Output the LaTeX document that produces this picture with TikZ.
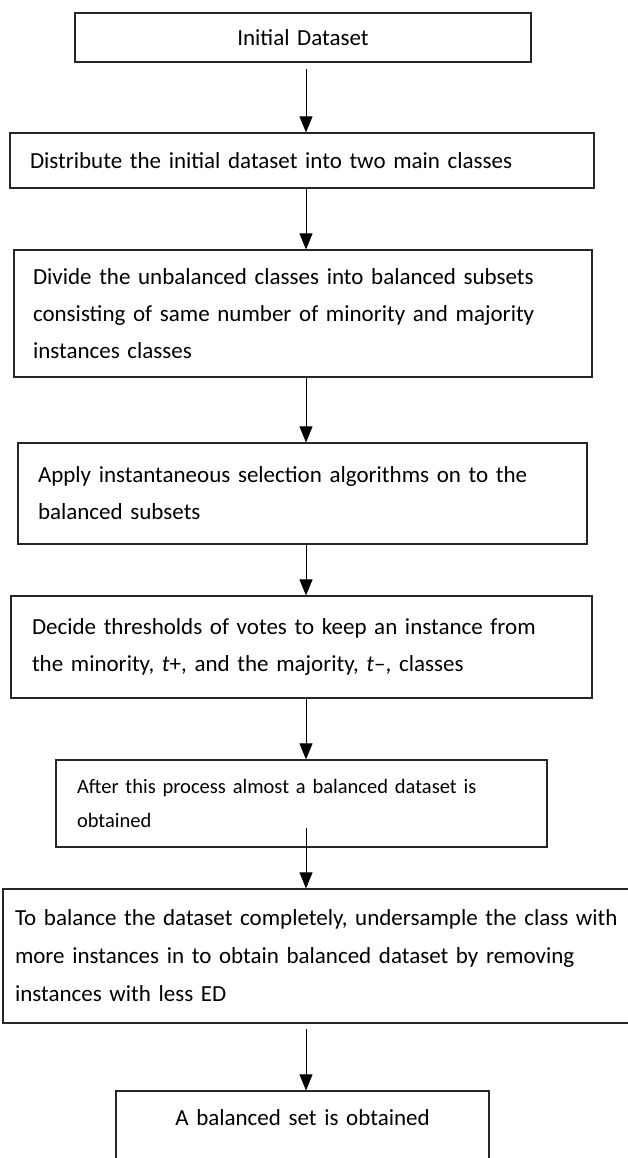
\documentclass[tikz,border=0pt]{standalone}
\usepackage{fontspec}
\setmainfont{Carlito}
\usetikzlibrary{arrows.meta}
\tikzset{
	procbox/.style={draw=black!85, line width=1.2pt, rectangle, inner ysep=0pt, align=left, font=\fontsize{23}{37}\selectfont},
	flow/.style={line width=0.9pt, -{Triangle[width=13pt,length=16pt]}}
}

\begin{document}
\begin{tikzpicture}[x=1pt, y=-1pt]
			%%%%% START %%%%%
			
			\useasboundingbox (0, 0) rectangle (628, 1158);
			\coordinate (axis) at (306, 0);
			
			\node[procbox, align=center, text width=456pt, inner xsep=0pt, minimum height=49pt] (init) at (303, 37.5) {Initial Dataset};
			
			\node[procbox, text width=544pt, inner xsep=20pt, minimum height=55pt] (distrib) at (302, 160.5)
			{Distribute the initial dataset into two main classes};
			
			\node[procbox, text width=540pt, inner xsep=19pt, minimum height=127pt] (divide) at (303, 313.5)
			{Divide the unbalanced classes into balanced subsets\\
			consisting of same number of minority and majority\\
			instances classes};
			
			\node[procbox, text width=529pt, inner xsep=20pt, minimum height=101pt] (apply) at (302.5, 493.5)
			{Apply instantaneous selection algorithms on to the\\
			balanced subsets};
			
			\node[procbox, text width=539pt, inner xsep=21pt, minimum height=102pt] (votes) at (301.5, 647)
			{Decide thresholds of votes to keep an instance from\\
			the minority, \textit{t}+, and the majority, \textit{t}\textendash, classes};
			
			\node[procbox, font=\fontsize{20.5}{34}\selectfont, text width=449pt, inner xsep=21pt, minimum height=87pt] (almost) at (301.5, 803.5)
			{After this process almost a balanced dataset is\\
			obtained};
			
			\node[procbox, font=\fontsize{23}{38}\selectfont, text width=612pt, inner xsep=12pt, minimum height=134pt] (under) at (321, 956)
			{To balance the dataset completely, undersample the class with\\
			more instances in to obtain balanced dataset by removing\\
			instances with less ED};
			
			\node[procbox, align=center, text width=373pt, inner xsep=0pt, minimum height=84pt, text depth=30pt] (final) at (302.5, 1133)
			{A balanced set is obtained};
			
			\draw[flow, shorten <=6pt] (init.south -| axis) -- (distrib.north -| axis);
			\draw[flow] (distrib.south -| axis) -- (divide.north -| axis);
			\draw[flow] (divide.south -| axis) -- (apply.north -| axis);
			\draw[flow] (apply.south -| axis) -- (votes.north -| axis);
			\draw[flow] (votes.south -| axis) -- (almost.north -| axis);
			\draw[flow, shorten <=-20pt] (almost.south -| axis) -- (under.north -| axis);
			\draw[flow, shorten <=5pt] (under.south -| axis) -- (final.north -| axis);
			
			%%%%% END %%%%%
\end{tikzpicture}
\end{document}
